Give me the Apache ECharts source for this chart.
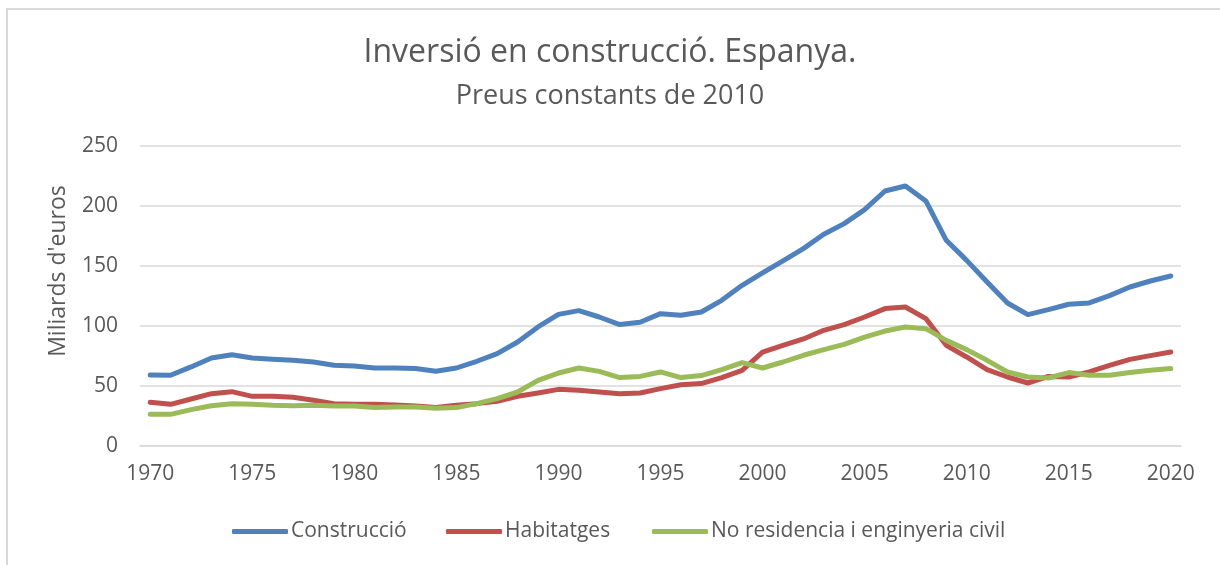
<!DOCTYPE html>
<html>
<head>
<meta charset="utf-8">
<script src="https://cdn.jsdelivr.net/npm/echarts@6/dist/echarts.min.js"></script>
<style>
  html, body { margin: 0; padding: 0; background: #fff; }
  #frame { position: absolute; left: 6px; top: 8px; width: 1400px; height: 700px; border: 2px solid #d9d9d9; box-sizing: border-box; }
  #chart { position: absolute; left: 0; top: 0; width: 1220px; height: 565px; }
</style>
</head>
<body>
<div id="frame"></div>
<div id="chart"></div>
<script>
// anys
var years = ['1970','1971','1972','1973','1974','1975','1976','1977','1978','1979',
  '1980','1981','1982','1983','1984','1985','1986','1987','1988','1989',
  '1990','1991','1992','1993','1994','1995','1996','1997','1998','1999',
  '2000','2001','2002','2003','2004','2005','2006','2007','2008','2009',
  '2010','2011','2012','2013','2014','2015','2016','2017','2018','2019','2020']

var construccio = [59.2, 59, 65.9, 73.4, 76.1, 73.4, 72.3, 71.4, 70, 67.3,
  66.7, 65, 65, 64.5, 62.3, 65, 70.6, 77, 86.7, 99.2,
  109.7, 112.8, 107.5, 101.2, 103.1, 110.3, 108.9, 111.7, 121.4, 133.9,
  144.2, 154.2, 164.5, 176.4, 185.3, 197, 212.5, 216.7, 204.2, 171.4,
  154.7, 136.7, 119.2, 109.5, 113.6, 118.1, 119.2, 125.3, 132.5, 137.5, 141.7]

var habitatges = [36.4, 34.7, 39.2, 43.6, 45.3, 41.4, 41.4, 40.6, 38.1, 35.3,
  34.7, 34.7, 34.2, 33.4, 32, 33.9, 35.3, 37.2, 41.4, 44.2,
  47.2, 46.4, 45, 43.6, 44.2, 47.8, 51.1, 52, 57, 63,
  78.3, 83.9, 89.2, 96.4, 101.2, 107.5, 114.5, 115.8, 106.2, 83.9,
  74.2, 63.7, 57.5, 52.5, 58, 57.5, 61.7, 67.2, 72.2, 75.3, 78.3]

var noResidencia = [26.4, 26.4, 30.3, 33.6, 35.3, 34.7, 33.9, 33.6, 33.9, 33.4,
  33.4, 32, 32.5, 32.5, 31.4, 32, 35.3, 39.5, 45, 54.7,
  60.8, 65, 62.2, 57, 58, 61.7, 57, 58.7, 63.7, 69.5,
  65, 70, 75.6, 80.3, 84.7, 90.8, 95.8, 99.2, 97.8, 88,
  80.3, 71.4, 61.7, 57.5, 56.7, 61.2, 58.9, 58.9, 61.2, 63.1, 64.5]

var yTicks = [0, 50, 100, 150, 200, 250]

var font = '"Open Sans", "Noto Sans", sans-serif'
var colors = ['#4f81bd', '#c0504d', '#9bbb59']
var names = ['Construcció', 'Habitatges', 'No residencia i enginyeria civil']
var legendLefts = [232, 446, 652]

var chart = echarts.init(document.getElementById('chart'), null, { renderer: 'canvas' })

var legends = names.map(function (n, i) {
  return {
    data: [n],
    left: legendLefts[i],
    top: 521,
    padding: 0,
    icon: 'roundRect',
    itemWidth: 56,
    itemHeight: 5,
    itemGap: 0,
    textStyle: { color: '#595959', fontSize: 21, fontFamily: font, padding: [0, 0, 0, -2] }
  }
})

chart.setOption({
  animation: false,
  backgroundColor: 'transparent',
  color: colors,
  title: [{
    text: 'Inversió en construcció. Espanya.',
    left: 'center',
    top: 32,
    textStyle: { color: '#595959', fontSize: 32, fontWeight: 'normal', fontFamily: font }
  }, {
    text: 'Preus constants de 2010',
    left: 'center',
    top: 78,
    textStyle: { color: '#595959', fontSize: 27, fontWeight: 'normal', fontFamily: font }
  }],
  legend: legends,
  grid: { left: 140, right: 39, top: 146, bottom: 119 },
  xAxis: {
    type: 'category',
    data: years,
    boundaryGap: true,
    axisLine: { lineStyle: { color: '#d9d9d9', width: 1.5 } },
    axisTick: { show: false },
    axisLabel: { interval: 4, color: '#595959', fontSize: 21, fontFamily: font, margin: 18 }
  },
  yAxis: {
    type: 'value',
    min: yTicks[0],
    max: yTicks[yTicks.length - 1],
    interval: 50,
    name: "Miliards d'euros",
    nameLocation: 'middle',
    nameGap: 70,
    nameTextStyle: { color: '#595959', fontSize: 23, fontFamily: font, padding: [0, 0, 0, 50] },
    axisLine: { show: false },
    axisTick: { show: false },
    axisLabel: { color: '#595959', fontSize: 21, fontFamily: font, margin: 22 },
    splitLine: { lineStyle: { color: '#d9d9d9', width: 1.5 } }
  },
  series: [
    { name: names[0], type: 'line', data: construccio, showSymbol: false, lineStyle: { width: 5, cap: 'round', join: 'round' } },
    { name: names[1], type: 'line', data: habitatges, showSymbol: false, lineStyle: { width: 5, cap: 'round', join: 'round' } },
    { name: names[2], type: 'line', data: noResidencia, showSymbol: false, lineStyle: { width: 5, cap: 'round', join: 'round' } }
  ]
})
</script>
</body>
</html>
